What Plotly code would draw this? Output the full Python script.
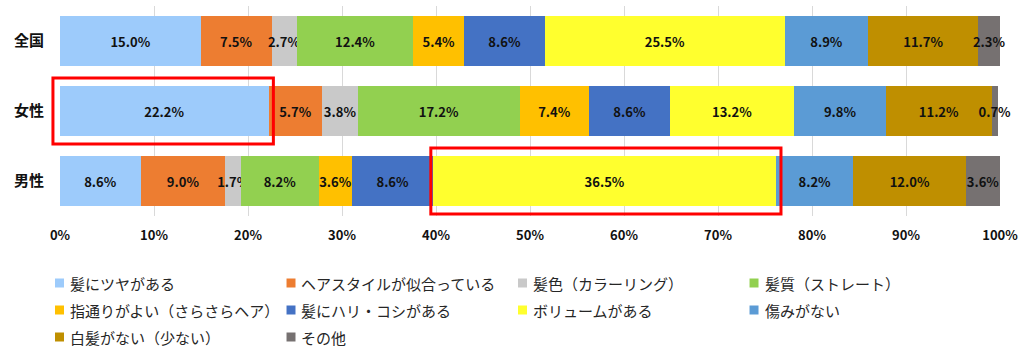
import plotly.graph_objects as go

categories = ["全国", "女性", "男性"]
series_names = [
    "髪にツヤがある", "ヘアスタイルが似合っている", "髪色（カラーリング）", "髪質（ストレート）",
    "指通りがよい（さらさらヘア）", "髪にハリ・コシがある", "ボリュームがある", "傷みがない",
    "白髪がない（少ない）", "その他",
]
values_zenkoku = [15.0, 7.5, 2.7, 12.4, 5.4, 8.6, 25.5, 8.9, 11.7, 2.3]
values_josei = [22.2, 5.7, 3.8, 17.2, 7.4, 8.6, 13.2, 9.8, 11.2, 0.7]
values_dansei = [8.6, 9.0, 1.7, 8.2, 3.6, 8.6, 36.5, 8.2, 12.0, 3.6]
colors = ["#9DCBFB", "#ED7D31", "#C9C9C9", "#92D050", "#FFC000",
          "#4472C4", "#FFFF2E", "#5B9BD5", "#BF8F00", "#767171"]
tick_vals = [0, 10, 20, 30, 40, 50, 60, 70, 80, 90, 100]
tick_text = [f"{v}%" for v in tick_vals]

rows = [values_zenkoku, values_josei, values_dansei]

W, H = 1024, 351
ML, MR, MT, MB = 60, 22, 6, 135
PW, PH = W - ML - MR, H - MT - MB

def px_to_paper_x(px):
    return (px - ML) / PW

def px_to_paper_y(py):
    return (H - MB - py) / PH

fig = go.Figure()
for i, name in enumerate(series_names):
    xs = [r[i] for r in rows]
    fig.add_trace(go.Bar(
        y=categories, x=xs, name=name, orientation="h",
        marker=dict(color=colors[i], line=dict(width=0)),
        text=[f"{v:.1f}%" for v in xs], textposition="inside",
        insidetextanchor="middle", textangle=0,
        textfont=dict(family="Noto Sans CJK JP", size=13, color="#111111", weight="bold"),
        cliponaxis=False, showlegend=False,
        hoverinfo="skip",
    ))

# highlight boxes (paper coords derived from data; axis 0-100 maps to paper 0-1)
n_cat = len(categories)

def cat_to_paper(idx):
    return (n_cat - 0.5 - idx) / n_cat

box_half = 0.47
j_end = values_josei[0]
fig.add_shape(type="rect", xref="paper", yref="paper",
              x0=-0.75 / 100, x1=(j_end + 0.5) / 100,
              y0=cat_to_paper(1) - box_half / n_cat, y1=cat_to_paper(1) + box_half / n_cat,
              line=dict(color="#FF0000", width=3))
d_start = sum(values_dansei[:6])
d_end = d_start + values_dansei[6]
fig.add_shape(type="rect", xref="paper", yref="paper",
              x0=(d_start - 0.25) / 100, x1=(d_end + 0.5) / 100,
              y0=cat_to_paper(2) - box_half / n_cat, y1=cat_to_paper(2) + box_half / n_cat,
              line=dict(color="#FF0000", width=3))

# manual legend, 4 columns
leg_x0, leg_dx = 55, 232
leg_y0, leg_dy = 283, 27
sq = 9
for i, name in enumerate(series_names):
    col, row = i % 4, i // 4
    lx = leg_x0 + col * leg_dx
    ly = leg_y0 + row * leg_dy
    fig.add_shape(type="rect", xref="paper", yref="paper",
                  x0=px_to_paper_x(lx), x1=px_to_paper_x(lx + sq),
                  y0=px_to_paper_y(ly + sq / 2), y1=px_to_paper_y(ly - sq / 2),
                  fillcolor=colors[i], line=dict(width=0))
    fig.add_annotation(xref="paper", yref="paper",
                       x=px_to_paper_x(lx + 13), y=px_to_paper_y(ly),
                       xanchor="left", yanchor="middle", showarrow=False,
                       text=name, font=dict(size=15, color="#262626"))

fig.update_layout(
    barmode="stack",
    bargap=0.286,
    width=W, height=H,
    margin=dict(l=ML, r=MR, t=MT, b=MB),
    paper_bgcolor="white", plot_bgcolor="white",
    font=dict(family="Noto Sans CJK JP", color="#262626"),
    uniformtext=dict(minsize=13, mode="show"),
    xaxis=dict(range=[0, 100], tickvals=tick_vals, ticktext=tick_text,
               showgrid=True, gridcolor="#D9D9D9", gridwidth=1, zeroline=False,
               showline=False, ticks="", ticklabelstandoff=10,
               tickfont=dict(size=13, weight="bold", color="#111111")),
    yaxis=dict(categoryorder="array", categoryarray=categories, autorange="reversed",
               showgrid=False, ticks="", ticklabelstandoff=15,
               tickfont=dict(size=15, weight="bold", color="#111111")),
    showlegend=False,
)

fig.write_html("out.html")
